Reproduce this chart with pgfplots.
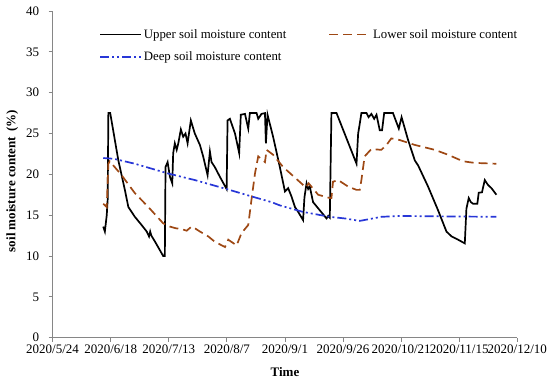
\documentclass[border=0pt]{standalone}
\usepackage{fontspec}
\setmainfont{Liberation Serif}
\usepackage{pgfplots}
\pgfplotsset{compat=1.18}
\definecolor{lowc}{RGB}{158,72,20}
\definecolor{deepc}{RGB}{40,55,215}
\definecolor{axc}{RGB}{134,134,134}
\begin{document}
\begin{tikzpicture}
\begin{axis}[
  scale only axis, width=464.7bp, height=326.7bp,
  xmin=0, xmax=200, ymin=0, ymax=40,
  axis x line*=bottom, axis y line*=left,
  axis line style={axc, line width=0.8bp},
  xtick={0,25,...,200},
  xticklabels={2020/5/24,2020/6/18,2020/7/13,2020/8/7,2020/9/1,2020/9/26,2020/10/21,2020/11/15,2020/12/10},
  ytick={0,5,...,40},
  tick align=outside, major tick length=4bp,
  tick style={axc, line width=0.8bp},
  tick label style={font=\fontsize{13bp}{15bp}\selectfont},
  /pgf/number format/assume math mode=true,
  yticklabel style={xshift=-6bp},
  xlabel={Time}, ylabel={soil moisture content\ \,(\%)},
  label style={font=\fontsize{13bp}{15bp}\selectfont\bfseries},
  xlabel style={at={(axis description cs:0.5,-0.104)}, anchor=center},
  ylabel style={at={(axis description cs:-0.0867,0.48)}, anchor=center},
  legend columns=2,
  legend cell align=left,
  legend image code/.code={\draw[#1] (0bp,0bp) -- (41bp,0bp);},
  legend style={draw=none, fill=none, font=\fontsize{12.8bp}{15bp}\selectfont,
    at={(axis description cs:0.0934,0.957)}, anchor=north west,
    row sep=8bp,
    /tikz/every even column/.append style={column sep=40bp}},
]
\coordinate (O) at (rel axis cs:0,0);
\addplot[black, line width=1.7bp] coordinates {
(21.8,13.6) (22.5,13.0) (23.3,15.0) (23.7,16.9) (24.0,27.5) (24.8,27.5)
(28.3,21.7) (31.1,18.1) (32.6,16.0) (35.4,14.8) (38.3,13.8) (40.5,13.0)
(41.5,12.4) (42.0,13.0) (42.5,12.5) (44.0,11.8) (47.6,10.0) (48.3,10.0)
(48.6,20.9) (49.5,21.5) (50.5,19.7) (51.5,18.9) (51.9,22.6) (52.6,23.8)
(53.4,23.0) (54.1,23.8) (55.2,25.5) (56.2,24.6) (57.2,25.0) (58.1,23.8)
(59.5,26.6) (61.2,25.0) (63.4,23.6) (64.8,22.2) (66.7,19.9) (67.7,22.8)
(68.4,21.5) (69.8,20.9) (72.0,19.7) (74.9,18.2) (75.3,26.6) (76.3,26.8)
(78.5,25.0) (80.3,22.6) (81.0,27.3) (82.8,27.4) (84.2,25.6) (84.9,27.5)
(87.8,27.5) (88.5,26.8) (89.9,27.4) (91.4,27.5) (91.8,23.8) (92.5,27.3)
(94.9,24.6) (97.8,20.9) (100.0,17.9) (101.4,18.3) (102.8,17.3) (104.3,16.0)
(105.7,15.4) (107.8,14.4) (108.4,17.2) (109.3,18.9) (110.0,18.2) (110.7,18.5)
(112.1,16.6) (115.0,15.6) (117.9,14.6) (118.6,14.9) (119.3,14.7) (120.0,27.5)
(122.2,27.5) (130.8,21.3) (131.5,25.0) (132.2,26.2) (132.9,27.5) (135.1,27.5)
(136.0,27.0) (137.2,27.4) (138.4,26.8) (139.4,27.3) (140.8,25.4) (141.8,25.4)
(142.7,27.5) (146.5,27.5) (149.0,25.6) (150.2,27.0) (153.0,24.2) (155.9,21.7)
(157.3,21.1) (161.6,18.5) (165.9,15.6) (169.5,13.0) (171.7,12.4) (174.5,12.0)
(177.4,11.55) (178.1,15.8) (179.1,17.1) (180.0,16.6) (181.0,16.4) (182.8,16.4)
(183.4,17.75) (184.8,17.8) (186.0,19.3) (187.4,18.7) (188.9,18.3) (191.0,17.5)
};
\addlegendentry{Upper soil moisture content}
\addplot[lowc, line width=1.7bp, dash pattern=on 9bp off 5bp] coordinates {
(21.8,16.4) (23.3,16.0) (24.0,21.3) (24.6,21.6) (29.7,19.9) (35.4,17.7)
(41.2,16.0) (47.6,14.0) (50.5,13.6) (53.0,13.4) (55.5,13.3) (57.7,13.1)
(59.8,13.6) (61.2,13.4) (63.4,13.0) (67.0,12.4) (69.8,11.75) (74.2,11.1)
(75.6,12.0) (79.2,11.3) (81.3,12.8) (84.2,13.8) (85.6,16.9) (87.1,20.1)
(88.5,22.2) (91.4,21.5) (92.1,23.0) (94.9,22.4) (99.2,20.9) (104.3,19.6)
(109.0,18.4) (110.2,18.9) (114.3,17.5) (119.3,17.1) (120.0,17.1) (120.7,19.1)
(122.9,19.3) (127.2,18.5) (130.8,18.1) (132.2,18.1) (132.9,19.3) (134.3,22.2)
(137.2,23.1) (141.5,23.0) (143.7,23.6) (145.8,24.4) (149.4,24.2) (155.9,23.6)
(164.5,23.0) (170.2,22.4) (176.6,21.6) (181.7,21.4) (191.0,21.3)
};
\addlegendentry{Lower soil moisture content}
\addplot[deepc, line width=1.7bp, dash pattern=on 9bp off 3bp on 2bp off 3bp on 2bp off 3bp] coordinates {
(21.8,22.0) (26.5,21.9) (35.4,21.3) (49.8,20.1) (61.2,19.3) (74.9,18.2)
(85.6,17.3) (94.2,16.6) (97.8,16.2) (102.8,15.8) (107.8,15.4) (119.3,14.8)
(125.8,14.6) (132.2,14.3) (141.5,14.8) (149.4,14.9) (191.0,14.8)
};
\addlegendentry{Deep soil moisture content}
\end{axis}
\pgfresetboundingbox
\path (O) ++(-52.6bp,-43.3bp) rectangle ++(550bp,381bp);
\end{tikzpicture}
\end{document}
